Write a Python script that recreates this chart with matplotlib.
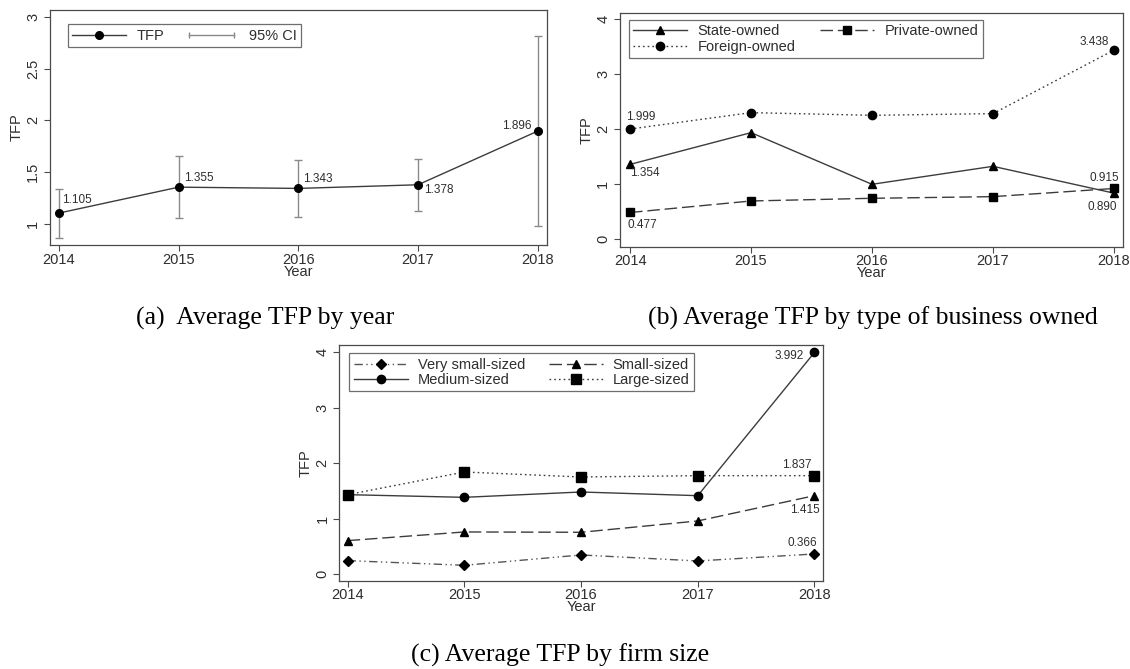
import matplotlib.pyplot as plt
from matplotlib.legend_handler import HandlerLine2D
from matplotlib.lines import Line2D

years = [2014, 2015, 2016, 2017, 2018]

# (a) average TFP by year with 95% CI
tfp_mean = [1.105, 1.355, 1.343, 1.378, 1.896]
ci_low = [0.865, 1.055, 1.068, 1.125, 0.977]
ci_high = [1.341, 1.653, 1.614, 1.627, 2.814]
tfp_labels = ["1.105", "1.355", "1.343", "1.378", "1.896"]

# (b) by ownership
state_owned = [1.354, 1.933, 0.991, 1.319, 0.830]
private_owned = [0.477, 0.687, 0.736, 0.766, 0.915]
foreign_owned = [1.999, 2.298, 2.249, 2.280, 3.438]

# (c) by firm size
very_small = [0.246, 0.162, 0.348, 0.240, 0.366]
small_sized = [0.606, 0.762, 0.756, 0.960, 1.415]
medium_sized = [1.433, 1.385, 1.481, 1.415, 3.992]
large_sized = [1.433, 1.841, 1.751, 1.775, 1.775]

captions = ["(a)  Average TFP by year",
            "(b) Average TFP by type of business owned",
            "(c) Average TFP by firm size"]

LINE = "#3c3c3c"
FRAME = "#4a4a4a"
TXT = "#2e2e2e"
SANS = "Liberation Sans"
SERIF = "Liberation Serif"
TICK_FS = 10.5


def style_axes(ax, xlim, ylim, yticks, yticklabels):
    ax.set_xlim(*xlim)
    ax.set_ylim(*ylim)
    ax.set_xticks(years)
    ax.set_xticklabels([str(y) for y in years], fontsize=TICK_FS, color=TXT, family=SANS)
    ax.set_yticks(yticks)
    ax.set_yticklabels(yticklabels, fontsize=TICK_FS, color=TXT, family=SANS,
                       rotation=90, va="center")
    ax.tick_params(length=4, width=0.8, color=FRAME, pad=1.5)
    ax.tick_params(axis="y", pad=3)
    for sp in ax.spines.values():
        sp.set_color(FRAME)
        sp.set_linewidth(0.9)
    ax.set_xlabel("Year", fontsize=TICK_FS, color=TXT, family=SANS, labelpad=-1.5)
    ax.set_ylabel("TFP", fontsize=TICK_FS, color=TXT, family=SANS, labelpad=2)


def note(ax, x, y, text, dx, dy, ha):
    ax.annotate(text, (x, y), xytext=(dx, dy), textcoords="offset points",
                ha=ha, va="center", fontsize=8.5, color=TXT, family=SANS)


def legend(ax, handles, labels, anchor, colsp, handler_map=None):
    leg = ax.legend(handles, labels, loc="upper left", bbox_to_anchor=anchor,
                    ncol=2, frameon=True, fancybox=False, borderaxespad=0,
                    prop={"family": SANS, "size": 10.5}, handlelength=3.7,
                    columnspacing=colsp, handletextpad=0.7, labelspacing=0.1,
                    borderpad=0.3, numpoints=1, handler_map=handler_map)
    leg.get_frame().set_edgecolor(FRAME)
    leg.get_frame().set_linewidth(0.9)
    for t in leg.get_texts():
        t.set_color(TXT)
    return leg


fig = plt.figure(figsize=(11.3, 6.69), dpi=100)

# ---- panel (a)
ax_a = fig.add_axes([0.0442, 0.6338, 0.4396, 0.3513])
err_lo = [m - lo for m, lo in zip(tfp_mean, ci_low)]
err_hi = [hi - m for m, hi in zip(tfp_mean, ci_high)]
ax_a.errorbar(years, tfp_mean, yerr=[err_lo, err_hi], fmt="none",
              ecolor="#8a8a8a", elinewidth=1.0, capsize=3, capthick=1.0, zorder=2)
ax_a.plot(years, tfp_mean, color=LINE, lw=1.0, marker="o", ms=5.5,
          mfc="black", mec="black", zorder=3)
style_axes(ax_a, (2013.925, 2018.075), (0.797, 3.065),
           [1, 1.5, 2, 2.5, 3], ["1", "1.5", "2", "2.5", "3"])
a_off = [(2.6, 9.5, "left"), (3.6, 6.3, "left"), (3.6, 6.5, "left"),
         (4.3, -4.1, "left"), (-4.7, 3.6, "right")]
for x, y, lab, (dx, dy, ha) in zip(years, tfp_mean, tfp_labels, a_off):
    note(ax_a, x, y, lab, dx, dy, ha)
h_tfp = Line2D([], [], color=LINE, lw=1.0, marker="o", ms=5.5, mfc="black", mec="black")
h_ci = Line2D([], [], color="#8a8a8a", lw=1.0, marker="|", ms=5, mec="#8a8a8a")
legend(ax_a, [h_tfp, h_ci], ["TFP", "95% CI"], (0.036, 0.939), 1.4,
       handler_map={h_ci: HandlerLine2D(numpoints=2)})

# ---- panel (b)
ax_b = fig.add_axes([0.5487, 0.6313, 0.4448, 0.3497])
ax_b.plot(years, state_owned, color=LINE, lw=1.0, marker="^", ms=6,
          mfc="black", mec="black", label="State-owned")
ax_b.plot(years, private_owned, color=LINE, lw=1.0, dashes=(9, 3.5), marker="s", ms=6,
          mfc="black", mec="black", label="Private-owned")
ax_b.plot(years, foreign_owned, color=LINE, lw=1.0, dashes=(1.2, 2.2), marker="o", ms=6,
          mfc="black", mec="black", label="Foreign-owned")
style_axes(ax_b, (2013.917, 2018.072), (-0.146, 4.12),
           [0, 1, 2, 3, 4], ["0", "1", "2", "3", "4"])
note(ax_b, years[0], foreign_owned[0], "1.999", -3.2, 8.6, "left")
note(ax_b, years[0], state_owned[0], "1.354", 0, -6.5, "left")
note(ax_b, years[0], private_owned[0], "0.477", -1.9, -9.1, "left")
note(ax_b, years[-1], foreign_owned[-1], "3.438", -3.6, 5.5, "right")
note(ax_b, years[-1], private_owned[-1], "0.915", -7.2, 7.2, "center")
note(ax_b, years[-1], state_owned[-1], "0.890", -8.6, -10.1, "center")
hb, lb = ax_b.get_legend_handles_labels()
legend(ax_b, [hb[0], hb[2], hb[1]], [lb[0], lb[2], lb[1]], (0.018, 0.969), 1.7)

# ---- panel (c)
ax_c = fig.add_axes([0.3002, 0.132, 0.4280, 0.3523])
ax_c.plot(years, very_small, color="#555555", lw=1.0, dashes=(6, 2.5, 1, 2.5, 1, 2.5),
          marker="D", ms=5.5, mfc="black", mec="black", label="Very small-sized")
ax_c.plot(years, medium_sized, color=LINE, lw=1.0, marker="o", ms=6,
          mfc="black", mec="black", label="Medium-sized")
ax_c.plot(years, small_sized, color=LINE, lw=1.0, dashes=(9, 3.5), marker="^", ms=6,
          mfc="black", mec="black", label="Small-sized")
ax_c.plot(years, large_sized, color=LINE, lw=1.0, dashes=(1.2, 2.2), marker="s", ms=6.5,
          mfc="black", mec="black", label="Large-sized")
style_axes(ax_c, (2013.928, 2018.072), (-0.115, 4.126),
           [0, 1, 2, 3, 4], ["0", "1", "2", "3", "4"])
note(ax_c, years[-1], medium_sized[-1], "3.992", -7.9, -2.7, "right")
note(ax_c, years[-1], large_sized[-1], "1.837", -2.4, 7.7, "right")
note(ax_c, years[-1], small_sized[-1], "1.415", 3.5, -10.3, "right")
note(ax_c, years[-1], very_small[-1], "0.366", 1.9, 8.1, "right")
hc, lc = ax_c.get_legend_handles_labels()
legend(ax_c, hc, lc, (0.021, 0.965), 1.6)

# ---- captions
for xy, cap in zip([(0.2345, 0.5247), (0.7726, 0.5247), (0.4956, 0.0209)], captions):
    fig.text(xy[0], xy[1], cap, ha="center", va="center",
             fontsize=18.5, family=SERIF, color="black")

fig.savefig("out.png", dpi=100)
